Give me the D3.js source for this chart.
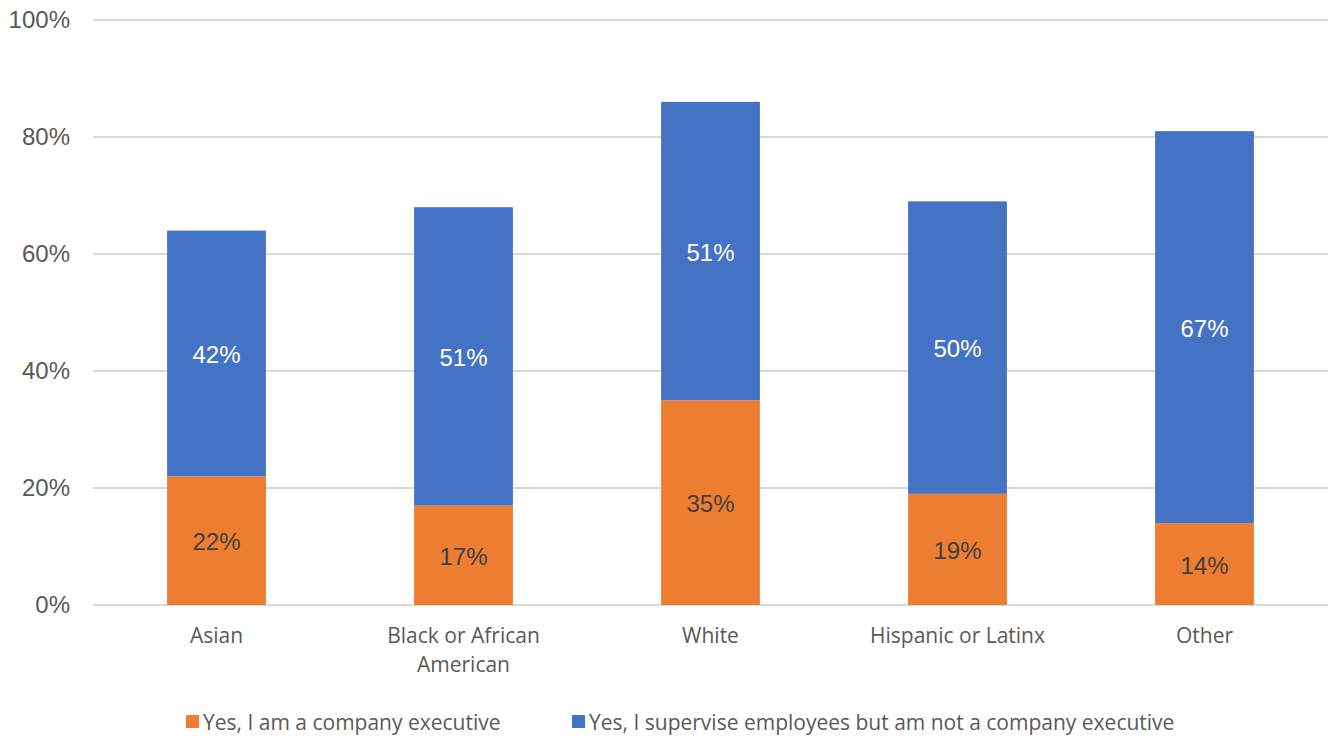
<!DOCTYPE html>
<html>
<head>
<meta charset="utf-8">
<script src="https://cdn.jsdelivr.net/npm/d3@7"></script>
<style>
  html, body { margin: 0; padding: 0; background: #fff; }
  svg { display: block; }
</style>
</head>
<body>
<svg id="chart" width="1333" height="739"></svg>
<script>
// Categories and the two stacked series (percent of respondents)
const categories = ["Asian", "Black or African American", "White", "Hispanic or Latinx", "Other"];
const categoryLines = [["Asian"], ["Black or African", "American"], ["White"], ["Hispanic or Latinx"], ["Other"]];
const executive = [22, 17, 35, 19, 14];
const supervisor = [42, 51, 51, 50, 67];
const seriesNames = ["Yes, I am a company executive", "Yes, I supervise employees but am not a company executive"];
const yTicks = [0, 20, 40, 60, 80, 100];

const colors = ["#ED7D31", "#4472C4"];
const labelColors = ["#404040", "#ffffff"];

const svg = d3.select("#chart");
const margin = { left: 93, right: 5, top: 20, bottom: 134 };
const W = 1333, H = 739;

const x = d3.scaleBand().domain(categories).range([margin.left, W - margin.right]).paddingInner(0.6).paddingOuter(0.3);
const y = d3.scaleLinear().domain([0, 100]).range([H - margin.bottom, margin.top]);

// gridlines
svg.append("g").selectAll("line").data(yTicks).join("line")
  .attr("x1", margin.left).attr("x2", W - margin.right)
  .attr("y1", d => y(d)).attr("y2", d => y(d))
  .attr("stroke", "#d9d9d9").attr("stroke-width", 2);

// y axis labels
const yAxis = d3.axisLeft(y).tickValues(yTicks).tickFormat(d => d + "%").tickSize(0).tickPadding(0);
const yg = svg.append("g").attr("transform", `translate(70,0)`).call(yAxis);
yg.select(".domain").remove();
yg.selectAll("text").attr("font-family", "Liberation Sans, Arial, sans-serif")
  .attr("font-size", 24).attr("fill", "#595959");

// stacked data
const rows = categories.map((c, i) => ({ cat: c, exec: executive[i], sup: supervisor[i] }));
const stack = d3.stack().keys(["exec", "sup"])(rows);

const layers = svg.append("g").selectAll("g").data(stack).join("g")
  .attr("fill", (d, i) => colors[i]);
layers.selectAll("rect").data(d => d).join("rect")
  .attr("x", d => x(d.data.cat))
  .attr("width", x.bandwidth())
  .attr("y", d => y(d[1]))
  .attr("height", d => y(d[0]) - y(d[1]));

// value labels
svg.append("g").selectAll("g").data(stack).join("g")
  .attr("fill", (d, i) => labelColors[i])
  .selectAll("text").data(d => d).join("text")
  .attr("x", d => x(d.data.cat) + x.bandwidth() / 2)
  .attr("y", d => (y(d[0]) + y(d[1])) / 2)
  .attr("dy", "0.4em")
  .attr("text-anchor", "middle")
  .attr("font-family", "Liberation Sans, Arial, sans-serif")
  .attr("font-size", 24)
  .text(d => (d[1] - d[0]) + "%");

// category labels
const cg = svg.append("g");
categories.forEach((c, i) => {
  const t = cg.append("text")
    .attr("x", x(c) + x.bandwidth() / 2)
    .attr("y", 643)
    .attr("text-anchor", "middle")
    .attr("font-family", "Open Sans, sans-serif")
    .attr("font-size", 21)
    .attr("fill", "#595959");
  categoryLines[i].forEach((line, j) => {
    t.append("tspan").attr("x", x(c) + x.bandwidth() / 2).attr("dy", j === 0 ? 0 : 29).text(line);
  });
});

// legend
const legendX = [186, 572];
const lg = svg.append("g");
seriesNames.forEach((name, i) => {
  lg.append("rect").attr("x", legendX[i]).attr("y", 715).attr("width", 13).attr("height", 13).attr("fill", colors[i]);
  lg.append("text").attr("x", legendX[i] + 17).attr("y", 730)
    .attr("font-family", "Open Sans, sans-serif").attr("font-size", 21).attr("fill", "#595959")
    .text(name);
});
</script>
</body>
</html>
